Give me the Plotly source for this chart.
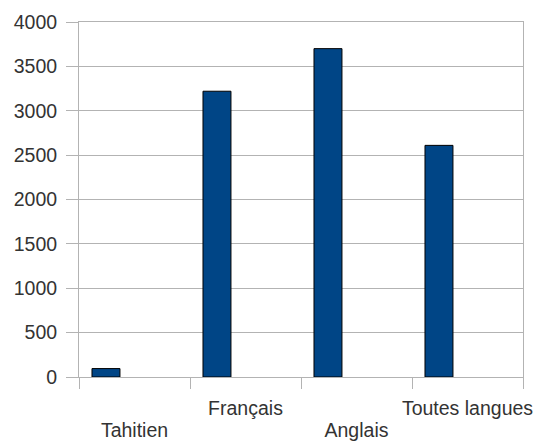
import plotly.graph_objects as go

categories = ["Tahitien", "Français", "Anglais", "Toutes langues"]
values = [95, 3220, 3700, 2610]
upper_labels = ["Français", "Toutes langues"]
lower_labels = ["Tahitien", "Anglais"]
y_ticks = [0, 500, 1000, 1500, 2000, 2500, 3000, 3500, 4000]

fig = go.Figure()
fig.add_trace(go.Bar(
    x=categories, y=values,
    width=0.252, offset=-0.383,
    marker=dict(color="#004586", line=dict(color="#000000", width=1)),
    hoverinfo="y",
))
# invisible helper traces so the staggered label axes exist
for ax in ("x2", "x3"):
    fig.add_trace(go.Scatter(
        x=categories, y=values, xaxis=ax, yaxis="y",
        mode="markers", marker=dict(opacity=0), hoverinfo="skip",
    ))

font = dict(family="Liberation Sans, Arial, sans-serif", size=19.5, color="#333333")
common = dict(type="category", categoryorder="array", categoryarray=categories,
              range=[-0.5, 3.5], tickangle=0, automargin=False)
label_axis = dict(showline=False, ticks="", showgrid=False, zeroline=False,
                  overlaying="x", anchor="y", side="bottom", tickfont=font)

fig.update_layout(
    width=542, height=441,
    margin=dict(l=79, r=19, t=22, b=64),
    paper_bgcolor="white", plot_bgcolor="white",
    showlegend=False, font=font,
    xaxis=dict(
        **common, showticklabels=False,
        tickson="boundaries", ticks="outside", ticklen=11, tickcolor="#b3b3b3",
        showgrid=False, showline=True, linecolor="#b3b3b3", mirror=True,
    ),
    xaxis2=dict(**common, **label_axis, tickvals=upper_labels, ticklabelstandoff=17),
    xaxis3=dict(**common, **label_axis, tickvals=lower_labels, ticklabelstandoff=39),
    yaxis=dict(
        range=[0, 4000], tickvals=y_ticks, automargin=False,
        ticks="outside", ticklen=12, tickcolor="#b3b3b3",
        showgrid=True, gridcolor="#b3b3b3", zeroline=False,
        showline=True, linecolor="#b3b3b3", mirror=True,
        ticklabelstandoff=5, tickfont=font,
    ),
)
fig.write_html("out.html")
